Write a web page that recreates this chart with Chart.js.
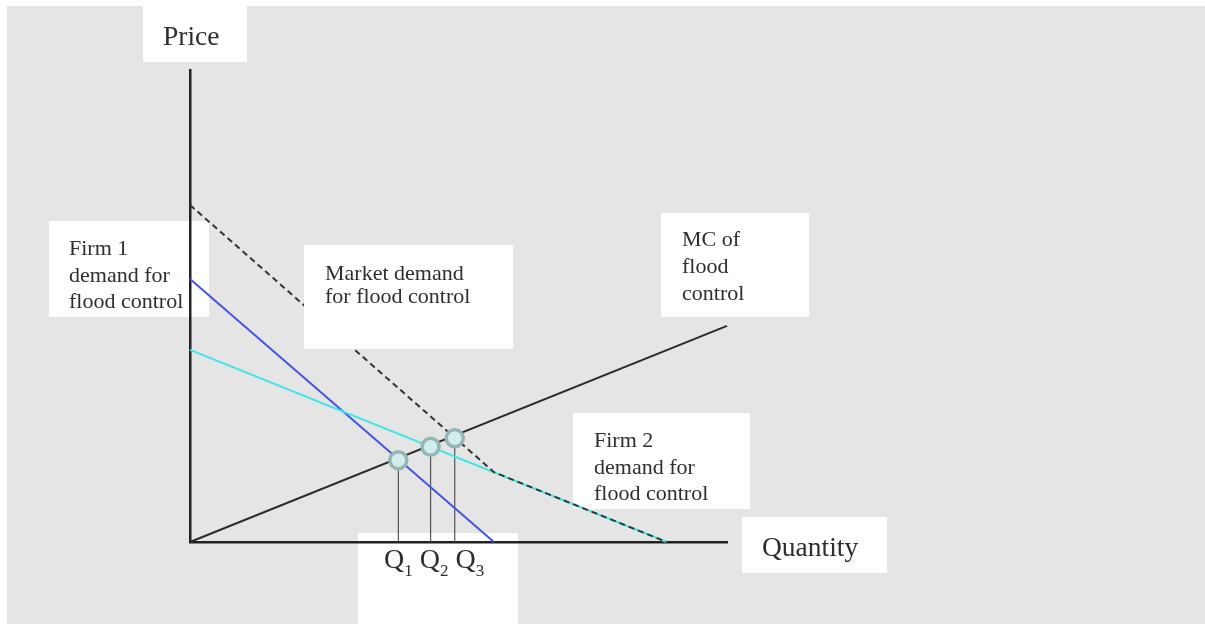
<!DOCTYPE html>
<html>
<head>
<meta charset="utf-8">
<script src="https://cdn.jsdelivr.net/npm/chart.js@4.4.1/dist/chart.umd.min.js"></script>
<style>
  html, body { margin: 0; padding: 0; background: #fff; }
  canvas { display: block; }
</style>
</head>
<body>
<canvas id="flood" width="1205" height="624"></canvas>
<script>
// quantity / price units, axis runs 0..10 both ways
const qRange = [0, 10];
const pRange = [0, 10];

const firm1Q = [0, 5.66];
const firm1P = [5.57, 0];
const firm2Q = [0, 8.88];
const firm2P = [4.07, 0];
const marketQ = [0, 5.66, 8.88];
const marketP = [7.14, 1.48, 0];
const mcQ = [0, 10];
const mcP = [0, 4.58];

// the three equilibria Q1 Q2 Q3
const eqSub = ['1', '2', '3'];
const eqQ = [3.88, 4.48, 4.93];
const eqP = [1.73, 2.02, 2.2];

const toPts = (xs, ys) => xs.map((x, i) => ({x: x, y: ys[i]}));

const serif = '"Liberation Serif", "Times New Roman", serif';
const labelFont = '22px ' + serif;
const axisFont = '27.5px ' + serif;

// white note boxes (canvas pixels)
const boxes = [
  {x: 143, y: 6, w: 104, h: 56, font: axisFont, tx: 163, ty: 45, lh: 0, lines: ['Price']},
  {x: 49, y: 221, w: 160, h: 96, font: labelFont, tx: 69, ty: 255, lh: 26.5, lines: ['Firm 1', 'demand for', 'flood control']},
  {x: 304, y: 245, w: 209, h: 104, font: labelFont, tx: 325, ty: 280, lh: 23, lines: ['Market demand', 'for flood control'], top: true},
  {x: 661, y: 213, w: 148, h: 104, font: labelFont, tx: 682, ty: 246, lh: 27, lines: ['MC of', 'flood', 'control']},
  {x: 573, y: 413, w: 177, h: 96, font: labelFont, tx: 594, ty: 447, lh: 26.5, lines: ['Firm 2', 'demand for', 'flood control']},
  {x: 742, y: 517, w: 145, h: 56, font: axisFont, tx: 762, ty: 556, lh: 0, lines: ['Quantity']},
  {x: 358, y: 533, w: 160, h: 91, lines: []}
];

function drawBox(ctx, b) {
  ctx.fillStyle = '#fff';
  ctx.fillRect(b.x, b.y, b.w, b.h);
  ctx.fillStyle = '#2e2e2e';
  ctx.font = b.font || labelFont;
  ctx.textAlign = 'left';
  ctx.textBaseline = 'alphabetic';
  b.lines.forEach((t, i) => ctx.fillText(t, b.tx, b.ty + i * b.lh));
}

const notes = {
  id: 'notes',
  beforeDraw(chart) {
    const ctx = chart.ctx;
    ctx.save();
    ctx.fillStyle = '#fff';
    ctx.fillRect(0, 0, chart.width, chart.height);
    ctx.fillStyle = '#e5e5e5';
    ctx.fillRect(7, 6, chart.width - 7, chart.height - 6);
    boxes.filter(b => !b.top).forEach(b => drawBox(ctx, b));

    // Q labels written as one run "Q1 Q2 Q3", starting under the first drop line
    const xs = chart.scales.x;
    ctx.fillStyle = '#2e2e2e';
    ctx.textBaseline = 'alphabetic';
    ctx.textAlign = 'left';
    const qFont = '28px ' + serif, subFont = '17px ' + serif;
    ctx.font = qFont;
    const wq = ctx.measureText('Q').width;
    const gap = ctx.measureText(' ').width;
    ctx.font = subFont;
    const ws = ctx.measureText('1').width;
    let left = xs.getPixelForValue(eqQ[0]) - (wq + ws) / 2;
    eqSub.forEach((s) => {
      ctx.font = qFont;
      ctx.fillText('Q', left, 568);
      ctx.font = subFont;
      ctx.fillText(s, left + wq, 576);
      left += wq + ctx.measureText(s).width + gap;
    });
    ctx.restore();
  },
  afterDatasetsDraw(chart) {
    const ctx = chart.ctx;
    ctx.save();
    boxes.filter(b => b.top).forEach(b => drawBox(ctx, b));
    ctx.restore();
  }
};

const lineStyle = {showLine: true, pointRadius: 0, borderWidth: 2, fill: false, clip: false};

const datasets = [
  {label: 'Equilibria', data: toPts(eqQ, eqP), showLine: false, pointRadius: 8.5,
   pointBorderWidth: 3.5, pointBackgroundColor: '#d3ecec', pointBorderColor: '#94b6b7', clip: false, order: 0},
  Object.assign({label: 'Market demand', data: toPts(marketQ, marketP),
   borderColor: '#333', borderDash: [6, 4], order: 1}, lineStyle),
  Object.assign({label: 'MC', data: toPts(mcQ, mcP), borderColor: '#2b2b2b', order: 2}, lineStyle),
  Object.assign({label: 'Firm 2 demand', data: toPts(firm2Q, firm2P), borderColor: '#3fe6e8', order: 3}, lineStyle),
  Object.assign({label: 'Firm 1 demand', data: toPts(firm1Q, firm1P), borderColor: '#4254ea', order: 3}, lineStyle)
];

eqQ.forEach((q, i) => {
  datasets.push(Object.assign({label: 'Q' + eqSub[i], data: toPts([q, q], [eqP[i], 0]),
    borderColor: '#555'}, lineStyle, {borderWidth: 1.2, order: 4}));
});

new Chart(document.getElementById('flood'), {
  type: 'scatter',
  data: {datasets: datasets},
  options: {
    responsive: false,
    devicePixelRatio: 1,
    animation: false,
    events: [],
    layout: {padding: {left: 190, top: 70, right: 478, bottom: 82}},
    plugins: {legend: {display: false}, tooltip: {enabled: false}},
    scales: {
      x: {
        type: 'linear', min: qRange[0], max: qRange[1],
        grid: {display: false, drawTicks: false},
        ticks: {display: false},
        border: {display: true, color: '#222', width: 2.5}
      },
      y: {
        type: 'linear', min: pRange[0], max: pRange[1],
        grid: {display: false, drawTicks: false},
        ticks: {display: false},
        border: {display: true, color: '#222', width: 2.5}
      }
    }
  },
  plugins: [notes]
});
</script>
</body>
</html>
